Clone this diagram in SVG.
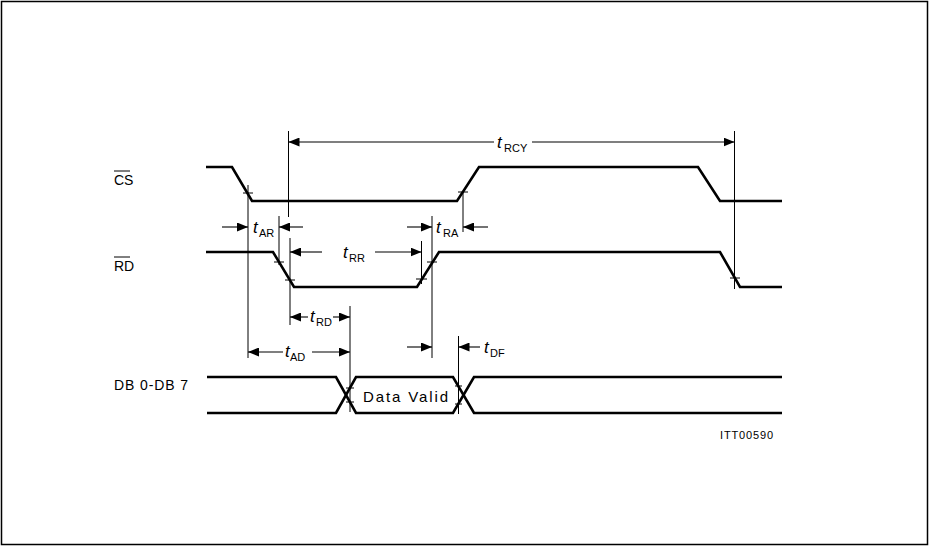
<svg xmlns="http://www.w3.org/2000/svg" width="930" height="547" viewBox="0 0 930 547">
<style>
.frame{fill:#fff;stroke:#000;stroke-width:1.5}
.sig{fill:none;stroke:#000;stroke-width:2.6;stroke-linejoin:miter}
.guide{fill:none;stroke:#000;stroke-width:1}
.dim{fill:none;stroke:#000;stroke-width:1.1}
.tick{fill:none;stroke:#000;stroke-width:1}
.lbl{font-family:"Liberation Sans",Arial,sans-serif;font-size:14px;fill:#000}
.t{font-family:"Liberation Sans",Arial,sans-serif;font-style:italic;font-size:17px;fill:#000}
.sub{font-family:"Liberation Sans",Arial,sans-serif;font-size:11px;fill:#000}
</style>
<defs>
<marker id="ah" markerUnits="userSpaceOnUse" markerWidth="11" markerHeight="9" refX="11" refY="4.5" orient="auto">
<path d="M0,0 L11,4.5 L0,9 z" fill="#000"/>
</marker>
</defs>
<rect class="frame" x="1.5" y="1.5" width="926" height="543"/>

<g id="cs">
<text class="lbl" x="114" y="185">CS</text>
<line class="tick" x1="114" y1="171" x2="130" y2="171"/>
<polyline class="sig" points="206,167 232,167 252,201 457,201 479,167 698,167 720,201 782,201"/>
<line class="tick" x1="243" y1="193" x2="253" y2="193"/>
<line class="tick" x1="458" y1="192" x2="468" y2="192"/>
</g>

<g id="rd">
<text class="lbl" x="114" y="271">RD</text>
<line class="tick" x1="114" y1="257" x2="130" y2="257"/>
<polyline class="sig" points="206,252 273,252 294,287 417,287 439,252 720,252 740,287 782,287"/>
<line class="tick" x1="274" y1="262" x2="284" y2="262"/>
<line class="tick" x1="285" y1="280" x2="295" y2="280"/>
<line class="tick" x1="416" y1="279" x2="427" y2="279"/>
<line class="tick" x1="427" y1="262" x2="437" y2="262"/>
<line class="tick" x1="730" y1="278" x2="740" y2="278"/>
</g>

<g id="db">
<text class="lbl" x="114" y="390" textLength="74" lengthAdjust="spacing">DB 0-DB 7</text>
<polyline class="sig" points="207,377 336,377 356,413 453,413 474,377 782,377"/>
<polyline class="sig" points="207,413 336,413 356,377 453,377 474,413 782,413"/>
<text class="lbl" x="363" y="402" textLength="85" lengthAdjust="spacing" style="font-size:15px">Data Valid</text>
<line class="tick" x1="346" y1="388" x2="354" y2="388"/>
<line class="tick" x1="346" y1="402" x2="354" y2="402"/>
<line class="tick" x1="455" y1="386" x2="462" y2="386"/>
<line class="tick" x1="455" y1="404" x2="462" y2="404"/>
</g>

<g id="connectors">
<line class="guide" x1="248" y1="185" x2="248" y2="358"/>
<line class="guide" x1="288.5" y1="131" x2="288.5" y2="217"/>
<line class="guide" x1="279" y1="216" x2="279" y2="265"/>
<line class="guide" x1="290" y1="238" x2="290" y2="325"/>
<line class="guide" x1="350" y1="306" x2="350" y2="412"/>
<line class="guide" x1="421.5" y1="241" x2="421.5" y2="284"/>
<line class="guide" x1="432" y1="216" x2="432" y2="358"/>
<line class="guide" x1="463" y1="192" x2="463" y2="232"/>
<line class="guide" x1="458.5" y1="336" x2="458.5" y2="414"/>
<line class="guide" x1="734.5" y1="131" x2="734.5" y2="289"/>

<line class="dim" x1="494" y1="142" x2="288.5" y2="142" marker-end="url(#ah)"/>
<line class="dim" x1="532" y1="142" x2="734.5" y2="142" marker-end="url(#ah)"/>
<line class="dim" x1="222" y1="227" x2="248" y2="227" marker-end="url(#ah)"/>
<line class="dim" x1="303" y1="227" x2="279" y2="227" marker-end="url(#ah)"/>
<line class="dim" x1="407" y1="227" x2="432" y2="227" marker-end="url(#ah)"/>
<line class="dim" x1="488" y1="227" x2="463" y2="227" marker-end="url(#ah)"/>
<line class="dim" x1="322" y1="252" x2="290" y2="252" marker-end="url(#ah)"/>
<line class="dim" x1="375" y1="252" x2="421.5" y2="252" marker-end="url(#ah)"/>
<line class="dim" x1="308" y1="317" x2="290" y2="317" marker-end="url(#ah)"/>
<line class="dim" x1="333" y1="317" x2="350" y2="317" marker-end="url(#ah)"/>
<line class="dim" x1="283" y1="352" x2="248" y2="352" marker-end="url(#ah)"/>
<line class="dim" x1="312" y1="352" x2="350" y2="352" marker-end="url(#ah)"/>
<line class="dim" x1="407" y1="347" x2="432" y2="347" marker-end="url(#ah)"/>
<line class="dim" x1="480" y1="347" x2="458.5" y2="347" marker-end="url(#ah)"/>
</g>

<g id="labels">
<text class="t" x="497" y="148">t</text><text class="sub" x="504" y="152">RCY</text>
<text class="t" x="253" y="233">t</text><text class="sub" x="259" y="237">AR</text>
<text class="t" x="436" y="233">t</text><text class="sub" x="443" y="237">RA</text>
<text class="t" x="343" y="258">t</text><text class="sub" x="349" y="262">RR</text>
<text class="t" x="310" y="322">t</text><text class="sub" x="316" y="326">RD</text>
<text class="t" x="285" y="357">t</text><text class="sub" x="290" y="361">AD</text>
<text class="t" x="484" y="353">t</text><text class="sub" x="490" y="357">DF</text>
<text class="sub" x="720" y="439" textLength="53" lengthAdjust="spacing">ITT00590</text>
</g>
</svg>
